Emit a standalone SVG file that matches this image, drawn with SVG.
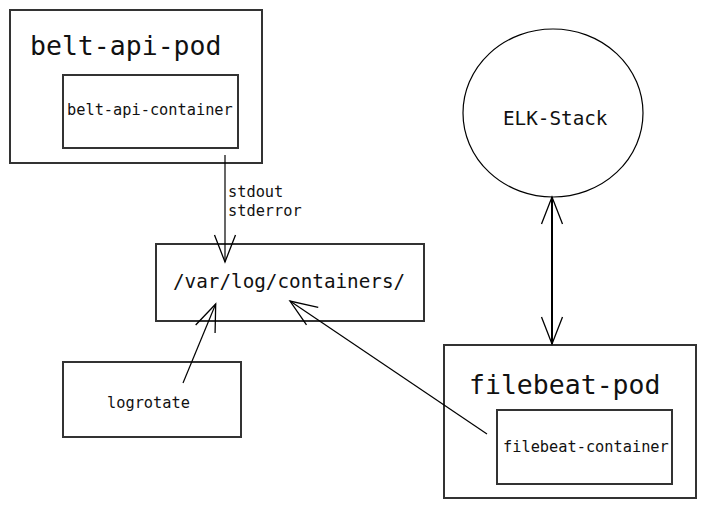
<svg xmlns="http://www.w3.org/2000/svg" width="706" height="509" viewBox="0 0 706 509">
<style>
.box{fill:#fff;stroke:#333;stroke-width:2}
.t{font-family:"DejaVu Sans Mono","Liberation Mono",monospace;fill:#111}
.big{font-size:26.5px}
.mid{font-size:19.3px}
.sm{font-size:15.3px}
.c{fill:none;stroke:#000;stroke-width:1.2}
.c2{fill:none;stroke:#000;stroke-width:2}
</style>
<defs>
<marker id="ah" markerUnits="userSpaceOnUse" viewBox="-30 -14 32 28" markerWidth="32" markerHeight="28" refX="0" refY="0" orient="auto-start-reverse">
<path d="M-27,-10.5 L0,0 L-27,10.5" fill="none" stroke="#000" stroke-width="1.3"/>
</marker>
</defs>
<rect width="706" height="509" fill="#fff"/>
<g id="belt-api-pod">
<rect class="box" x="10" y="10" width="252" height="153"/>
<text class="t big" x="30" y="55">belt-api-pod</text>
</g>
<g id="belt-api-container">
<rect class="box" x="63" y="75" width="175" height="73"/>
<text class="t sm" x="67" y="115">belt-api-container</text>
</g>
<g id="var-log-containers">
<rect class="box" x="156" y="244" width="268" height="77"/>
<text class="t mid" x="173" y="288">/var/log/containers/</text>
</g>
<g id="logrotate">
<rect class="box" x="63" y="362" width="178" height="75"/>
<text class="t sm" x="107" y="408">logrotate</text>
</g>
<g id="elk-stack">
<ellipse cx="553" cy="113" rx="90" ry="84" fill="#fff" stroke="#000" stroke-width="1.2"/>
<text class="t mid" x="503" y="125">ELK-Stack</text>
</g>
<g id="filebeat-pod">
<rect class="box" x="444" y="345" width="252" height="153"/>
<text class="t big" x="469" y="394">filebeat-pod</text>
</g>
<g id="filebeat-container">
<rect class="box" x="497" y="410" width="175" height="74"/>
<text class="t sm" x="503" y="452">filebeat-container</text>
</g>
<g id="connectors">
<line class="c" x1="225" y1="155" x2="225" y2="262" marker-end="url(#ah)"/>
<text class="t sm" x="228" y="197">stdout</text>
<text class="t sm" x="228" y="216">stderror</text>
<line class="c" x1="183" y1="383" x2="215.7" y2="304" marker-end="url(#ah)"/>
<line class="c" x1="487" y1="434" x2="290" y2="301" marker-end="url(#ah)"/>
<line class="c2" x1="552" y1="197" x2="552" y2="344" marker-start="url(#ah)" marker-end="url(#ah)"/>
</g>
</svg>
